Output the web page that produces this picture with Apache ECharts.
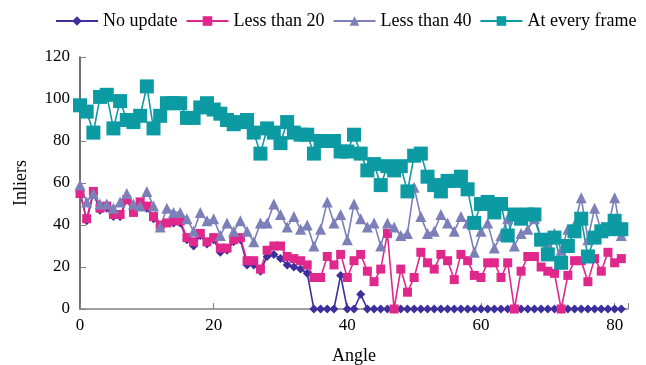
<!DOCTYPE html>
<html><head><meta charset="utf-8">
<script src="https://cdn.jsdelivr.net/npm/echarts@6/dist/echarts.min.js"></script>
<style>html,body{margin:0;padding:0;background:#fff}#c{width:646px;height:365px}</style>
</head><body><div id="c"></div>
<script>
var angles = [0,1,2,3,4,5,6,7,8,9,10,11,12,13,14,15,16,17,18,19,20,21,22,23,24,25,26,27,28,29,30,31,32,33,34,35,36,37,38,39,40,41,42,43,44,45,46,47,48,49,50,51,52,53,54,55,56,57,58,59,60,61,62,63,64,65,66,67,68,69,70,71,72,73,74,75,76,77,78,79,80,81];
var noUpdate = [56,42,55,47,48,44,44,52,46,50,48,43,40,41,41,41,33,30,35,31,33,27,28,32,33,21,21,18,25,26,24,21,20,19,17,0,0,0,0,16,0,0,7,0,0,0,0,0,0,0,0,0,0,0,0,0,0,0,0,0,0,0,0,0,0,0,0,0,0,0,0,0,0,0,0,0,0,0,0,0,0,0];
var lessThan20 = [55,43,56,48,49,45,45,52,46,51,49,44,40,41,42,42,34,32,36,32,34,29,29,33,34,23,23,19,28,30,30,25,24,23,21,15,15,25,21,26,15,23,26,18,13,19,36,0,19,8,15,27,22,19,26,23,14,26,23,16,15,22,22,15,22,0,18,25,25,20,18,17,0,16,23,23,13,24,18,27,22,24];
var lessThan40 = [59,51,55,50,50,48,51,55,50,49,56,49,39,48,46,46,43,37,46,42,43,35,41,37,42,37,32,41,41,50,45,39,44,38,40,30,38,51,41,45,33,50,43,39,41,30,41,39,35,36,58,44,36,37,45,41,37,44,41,27,37,41,29,35,43,30,36,38,43,33,31,36,28,38,40,53,33,48,37,39,53,35];
var everyFrame = [97,94,84,101,102,86,99,90,89,92,106,86,92,98,98,98,91,91,96,98,95,93,90,88,89,90,84,74,86,84,79,89,84,83,83,74,80,80,80,75,75,83,74,66,69,59,68,66,68,56,73,74,63,59,56,61,61,63,57,41,50,51,46,50,35,45,43,45,45,33,26,34,22,30,37,43,25,34,37,38,42,38];
var seriesNames = ['No update','Less than 20','Less than 40','At every frame'];
var yTicks = [0,20,40,60,80,100,120];
var xTicks = [0,20,40,60,80];

function pairs(v){ return angles.map(function(a,i){ return [a, v[i]]; }); }
var font = 'Liberation Serif, Times New Roman, serif';
var chart = echarts.init(document.getElementById('c'), null, {renderer:'canvas'});
var colors = ['#3d2f9c','#e0288c','#7b80b8','#0c9aa3'];
var symbols = ['diamond','rect','triangle','rect'];
var sizes = [9,9,11,14];
var dataSets = [noUpdate, lessThan20, lessThan40, everyFrame];
chart.setOption({
  animation:false,
  color: colors,
  textStyle:{fontFamily:font},
  legend:{
    top:7, left:50, width:596, itemWidth:42, itemHeight:12, itemGap:8,
    textStyle:{fontFamily:font, fontSize:18, color:'#000'},
    data: seriesNames
  },
  grid:{left:80, right:18, top:57, bottom:56, outerBoundsMode:'none', containLabel:false},
  xAxis:{
    type:'value', min:0, max:82, interval:20,
    name:'Angle', nameLocation:'middle', nameGap:38,
    nameTextStyle:{fontFamily:font, fontSize:18, color:'#000'},
    axisLine:{lineStyle:{color:'#808080', width:1.5}},
    axisTick:{inside:true, length:6, lineStyle:{color:'#808080'}},
    axisLabel:{fontFamily:font, fontSize:17, color:'#000', margin:8,
      formatter:function(v){ return xTicks.indexOf(v)>=0 ? String(v) : ''; }},
    splitLine:{show:false}
  },
  yAxis:{
    type:'value', min:0, max:120, interval:20,
    name:'Inliers', nameLocation:'middle', nameGap:50, nameRotate:90,
    nameTextStyle:{fontFamily:font, fontSize:18, color:'#000'},
    axisLine:{show:true, lineStyle:{color:'#404040', width:1.5}},
    axisTick:{show:true, inside:true, length:6, lineStyle:{color:'#808080'}},
    axisLabel:{fontFamily:font, fontSize:17, color:'#000', margin:10,
      formatter:function(v){ return yTicks.indexOf(v)>=0 ? String(v) : ''; }},
    splitLine:{show:false}
  },
  series: seriesNames.map(function(n,i){
    return {
      name:n, type:'line', data:pairs(dataSets[i]),
      symbol:symbols[i], symbolSize:sizes[i], showAllSymbol:true,
      lineStyle:{width:1.6, color:colors[i]},
      itemStyle:{color:colors[i]}
    };
  })
});
</script></body></html>
